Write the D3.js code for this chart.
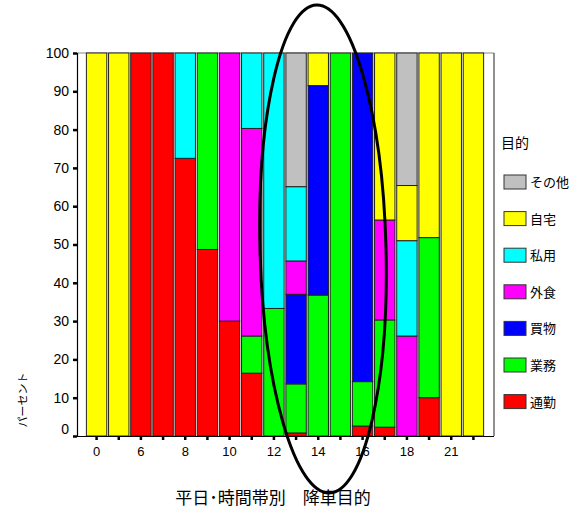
<!DOCTYPE html>
<html><head><meta charset="utf-8">
<script src="https://cdn.jsdelivr.net/npm/d3@7"></script>
<style>
html,body{margin:0;padding:0;background:#fff;}
svg{display:block;}
</style></head>
<body><svg id="c" width="575" height="512"></svg>
<script>
// ---- data ----
const hours = ["0","5","6","7","8","9","10","11","12","13","14","15","16","17","18","19","21","22"];
const tickLabels = ["0","","6","","8","","10","","12","","14","","16","","18","","21",""];
const purposes = ["通勤","業務","買物","外食","私用","自宅","その他"];
const colors = ["#ff0000","#00ff00","#0000ff","#ff00ff","#00ffff","#ffff00","#c0c0c0"];
const commute  = [0,0,100,100,72.5,48.7,30.0,16.4,0,0.8,0,0,2.6,2.3,0,10.0,0,0];
const business = [0,0,0,0,0,51.3,0,9.7,33.3,12.8,36.8,100,11.6,28.0,0,41.8,0,0];
const shopping = [0,0,0,0,0,0,0,0,0,23.4,54.7,0,85.8,0,0,0,0,0];
const dining   = [0,0,0,0,0,0,70.0,54.2,0,8.7,0,0,0,26.1,26.1,0,0,0];
const privateU = [0,0,0,0,27.5,0,0,19.7,66.7,19.4,0,0,0,0,24.9,0,0,0];
const home     = [100,100,0,0,0,0,0,0,0,0,8.5,0,0,43.6,14.4,48.2,100,100];
const other    = [0,0,0,0,0,0,0,0,0,34.9,0,0,0,0,34.6,0,0,0];
const yTicks = [0,10,20,30,40,50,60,70,80,90,100];
const yTitle = "パーセント";
const xTitle = "平日･時間帯別　降車目的";
const legendTitle = "目的";

// ---- build ----
const series = [commute,business,shopping,dining,privateU,home,other];
const rows = hours.map((h,i)=>{const r={hour:h}; purposes.forEach((p,k)=>r[p]=series[k][i]); return r;});
const stacked = d3.stack().keys(purposes)(rows);

const svg = d3.select("#c");
const L=77, R=494, T=53, B=436;
const x = d3.scaleBand().domain(hours).range([85.5,484.5]).paddingInner(0.08).paddingOuter(0.04);
const y = d3.scaleLinear().domain([0,100]).range([B,T]);
const color = d3.scaleOrdinal().domain(purposes).range(colors);

// frame
svg.append("line").attr("x1",L).attr("x2",R).attr("y1",T).attr("y2",T).attr("stroke","#888").attr("stroke-width",1);
svg.append("line").attr("x1",R).attr("x2",R).attr("y1",T).attr("y2",B).attr("stroke","#222").attr("stroke-width",1);

// bars
svg.append("g").selectAll("g").data(stacked).join("g")
  .attr("fill",d=>color(d.key))
  .selectAll("rect").data(d=>d.filter(s=>s[1]-s[0]>0)).join("rect")
  .attr("x",d=>x(d.data.hour))
  .attr("width",x.bandwidth())
  .attr("y",d=>y(d[1]))
  .attr("height",d=>y(d[0])-y(d[1]))
  .attr("stroke","#222").attr("stroke-width",1);

// y axis
const yAxis = svg.append("g").attr("transform",`translate(${L},0)`)
  .call(d3.axisLeft(y).tickValues(yTicks).tickSize(4).tickPadding(4));
yAxis.select(".domain").attr("stroke","#000").attr("stroke-width",1.2);
yAxis.selectAll(".tick line").attr("stroke","#000").attr("stroke-width",2.5);
yAxis.selectAll("text").attr("font-family","Liberation Sans, Arial, sans-serif").attr("font-size",14).attr("fill","#000");
yAxis.selectAll(".tick").filter(d=>d===0).select("text").attr("dy","-0.15em");

// x axis
const xAxis = svg.append("g").attr("transform",`translate(0,${B})`)
  .call(d3.axisBottom(x).tickSize(4).tickPadding(7).tickFormat((d,i)=>tickLabels[i]));
xAxis.select(".domain").attr("d",`M${L-4},0.5H${R}`).attr("stroke","#000").attr("stroke-width",1.2);
xAxis.selectAll(".tick line").attr("stroke","#000").attr("stroke-width",2.5);
xAxis.selectAll("text").attr("font-family","Liberation Sans, Arial, sans-serif").attr("font-size",13).attr("fill","#000");

// titles
svg.append("text").attr("transform","translate(27,400) rotate(-90)")
  .attr("text-anchor","middle").attr("font-family","Noto Sans CJK JP").attr("font-size",11).text(yTitle);
svg.append("text").attr("x",273).attr("y",504).attr("text-anchor","middle")
  .attr("font-family","Noto Sans CJK JP").attr("font-size",17).text(xTitle);

// legend
svg.append("text").attr("x",501).attr("y",148).attr("font-family","Noto Sans CJK JP").attr("font-size",14).text(legendTitle);
const leg = svg.append("g").selectAll("g").data(purposes.slice().reverse()).join("g")
  .attr("transform",(d,i)=>`translate(504,${182+i*36.6})`);
leg.append("rect").attr("x",0).attr("y",-7).attr("width",22).attr("height",14)
  .attr("fill",d=>color(d)).attr("stroke","#333").attr("stroke-width",1);
leg.append("text").attr("x",26).attr("y",5).attr("font-family","Noto Sans CJK JP").attr("font-size",13).text(d=>d);

// annotation ellipse
svg.append("ellipse").attr("cx",323).attr("cy",249).attr("rx",63).attr("ry",244)
  .attr("fill","none").attr("stroke","#000").attr("stroke-width",3)
  .attr("transform","rotate(-1.5,323,249)");
</script></body></html>
